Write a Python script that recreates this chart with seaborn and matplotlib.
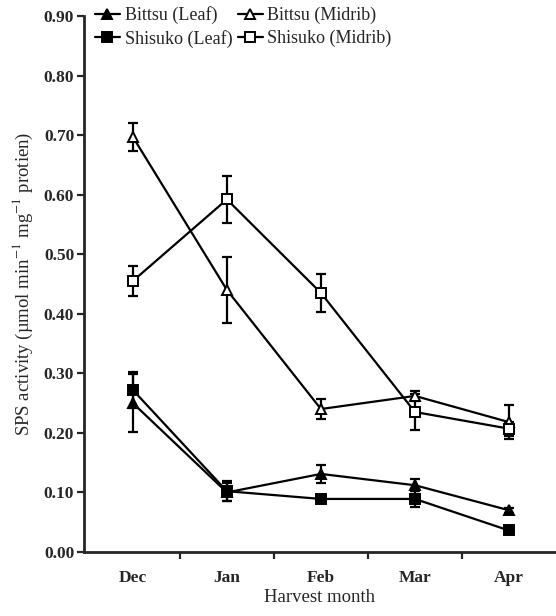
import matplotlib
matplotlib.use("Agg")
import matplotlib.pyplot as plt
import seaborn as sns
import numpy as np
import pandas as pd

months = ["Dec", "Jan", "Feb", "Mar", "Apr"]

bittsu_leaf = [0.250, 0.100, 0.131, 0.112, 0.070]
bittsu_leaf_err = [0.048, 0.015, 0.015, 0.010, 0.004]
shisuko_leaf = [0.272, 0.102, 0.089, 0.089, 0.036]
shisuko_leaf_err = [0.030, 0.017, 0.004, 0.013, 0.004]
bittsu_midrib = [0.697, 0.440, 0.240, 0.262, 0.218]
bittsu_midrib_err = [0.024, 0.055, 0.016, 0.008, 0.028]
shisuko_midrib = [0.455, 0.592, 0.435, 0.235, 0.207]
shisuko_midrib_err = [0.026, 0.040, 0.032, 0.030, 0.012]

series = [
    ("Bittsu (Leaf)", bittsu_leaf, bittsu_leaf_err, "^", "black"),
    ("Shisuko (Leaf)", shisuko_leaf, shisuko_leaf_err, "s", "black"),
    ("Bittsu (Midrib)", bittsu_midrib, bittsu_midrib_err, "^", "white"),
    ("Shisuko (Midrib)", shisuko_midrib, shisuko_midrib_err, "s", "white"),
]

sns.set_style("ticks")
plt.rcParams["font.family"] = ["Liberation Serif", "DejaVu Serif"]
plt.rcParams["mathtext.fontset"] = "stix"

fig = plt.figure(figsize=(5.56, 6.16), dpi=100)
ax = fig.add_axes([0.151, 0.104, 0.849, 0.87])

x = np.arange(len(months))
for name, vals, errs, mk, fc in series:
    df = pd.DataFrame({"month": x, "value": vals})
    ax.errorbar(x, vals, yerr=errs, fmt="none", ecolor="black",
                elinewidth=1.6, capsize=3.5, capthick=1.6, zorder=2)
    sns.lineplot(data=df, x="month", y="value", ax=ax, color="black",
                 linewidth=1.6, marker=mk, markersize=7,
                 markerfacecolor=fc, markeredgecolor="black",
                 markeredgewidth=1.4, label=name, zorder=3)

ax.set_xlim(-0.52, 4.5)
ax.set_ylim(0, 0.90)
ax.set_yticks(np.arange(0, 0.91, 0.1))
ax.set_yticklabels([f"{v:.2f}" for v in np.arange(0, 0.91, 0.1)],
                   fontweight="bold", fontsize=12.5)
ax.set_xticks(x)
ax.set_xticklabels(months, fontweight="bold", fontsize=12.5)
ax.tick_params(axis="x", which="major", length=0, pad=13)
ax.set_xticks(x[:-1] + 0.5, minor=True)
ax.tick_params(axis="x", which="minor", length=5, width=1.6, direction="out")
ax.tick_params(axis="y", length=5, width=1.6, direction="out", pad=2)

sns.despine(ax=ax)
ax.spines["left"].set_linewidth(2)
ax.spines["bottom"].set_linewidth(2)

ax.set_xlabel("Harvest month", fontsize=13.5, labelpad=2)
ax.set_ylabel("SPS activity (µmol min$^{-1}$ mg$^{-1}$ protien)", fontsize=13.5,
              labelpad=6)

ax.legend(ncol=2, frameon=False, loc="upper left", bbox_to_anchor=(0.0, 1.038),
          fontsize=13, handlelength=1.4, handletextpad=0.25, columnspacing=0.3,
          labelspacing=0.3, borderaxespad=0.2)

fig.savefig("out.png", dpi=100)
